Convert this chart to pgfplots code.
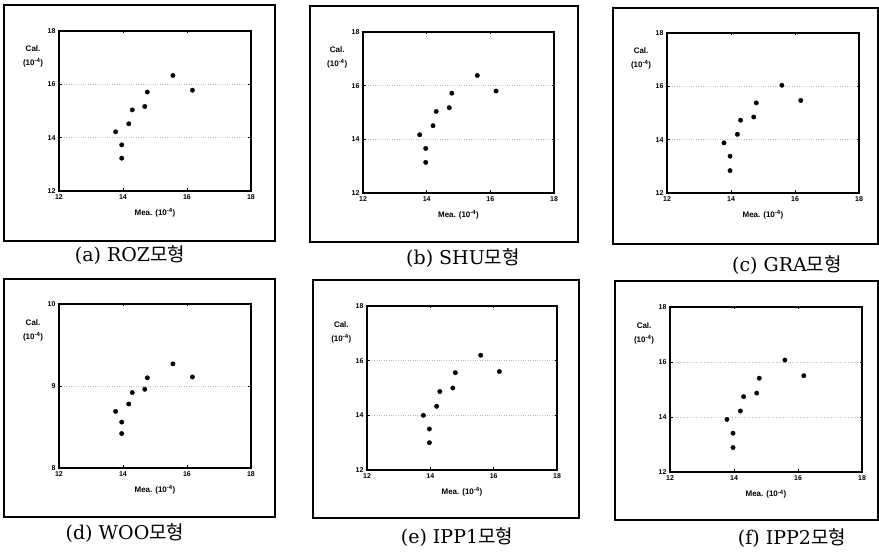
\documentclass[border=0pt]{standalone}
\usepackage{fontspec}
\setmainfont{Liberation Sans}
\newfontfamily\capserif{DejaVu Serif}
\newfontfamily\kr{Noto Sans CJK KR}
\usepackage{pgfplots}
\pgfplotsset{compat=1.18}
\usepackage{pgfplotstable}

% measured vs calculated, one table per model
\pgfplotstableread{
x y
13.77 14.22
13.96 13.73
13.96 13.23
14.18 14.52
14.29 15.04
14.68 15.17
14.76 15.71
15.56 16.33
16.17 15.78
}\roz
\pgfplotstableread{
x y
13.78 14.17
13.97 13.66
13.97 13.14
14.20 14.51
14.30 15.04
14.71 15.18
14.79 15.72
15.59 16.38
16.18 15.80
}\shu
\pgfplotstableread{
x y
13.78 13.88
13.97 13.38
13.97 12.84
14.20 14.20
14.30 14.73
14.71 14.85
14.79 15.38
15.59 16.04
16.18 15.47
}\gra
\pgfplotstableread{
x y
13.77 8.69
13.96 8.56
13.96 8.42
14.18 8.78
14.29 8.92
14.68 8.96
14.76 9.10
15.56 9.27
16.17 9.11
}\woo
\pgfplotstableread{
x y
13.78 14.00
13.97 13.50
13.97 13.00
14.20 14.33
14.30 14.87
14.71 15.00
14.79 15.56
15.59 16.20
16.18 15.60
}\ippa
\pgfplotstableread{
x y
13.78 13.91
13.97 13.41
13.97 12.89
14.20 14.22
14.30 14.74
14.71 14.87
14.79 15.41
15.59 16.07
16.18 15.50
}\ippb

\pgfplotsset{panel/.style={
  scale only axis, anchor=south west, axis on top,
  xmin=12, xmax=18, xtick={12,14,16,18},
  ymin=12, ymax=18, ytick={12,14,16,18},
  ymajorgrids, grid style={dotted, gray!50, line width=0.8pt},
  axis line style={line width=1.1pt, black},
  tick align=inside, major tick length=2.5pt,
  tick style={line width=0.8pt, black},
  /pgf/number format/assume math mode=true,
  tick label style={font=\bfseries\fontsize{7}{7}\selectfont},
  xlabel={Mea. (10\textsuperscript{-4})},
  xlabel style={font=\bfseries\fontsize{8}{8}\selectfont, at={(rel axis cs:0.5,-0.135)}, anchor=center},
  ylabel={Cal.\\(10\textsuperscript{-4})},
  ylabel style={font=\bfseries\fontsize{8}{14}\selectfont, align=center, rotate=-90, at={(rel axis cs:-0.135,0.84)}, anchor=center},
  after end axis/.code={\draw[line width=1.1pt] (rel axis cs:0,0) rectangle (rel axis cs:1,1);},
}}
\pgfplotsset{dots/.style={only marks, mark=*, mark size=2.2pt, black}}

\begin{document}
\begin{tikzpicture}[x=1pt, y=1pt]
\useasboundingbox (0,0) rectangle (879,553);
% outer frames
\begin{scope}[line width=1.6pt]
\draw (4,312) rectangle (275,548);
\draw (310,311) rectangle (578,547);
\draw (613,309) rectangle (878,545);
\draw (4,36) rectangle (275,274);
\draw (313,35) rectangle (579,273);
\draw (615,33) rectangle (878,272);
\end{scope}

\begin{axis}[panel, at={(59pt,362pt)}, width=192pt, height=160pt]
\addplot[dots] table {\roz};
\end{axis}
\begin{axis}[panel, at={(363pt,360pt)}, width=191pt, height=161pt]
\addplot[dots] table {\shu};
\end{axis}
\begin{axis}[panel, at={(667pt,360pt)}, width=192pt, height=160pt]
\addplot[dots] table {\gra};
\end{axis}
\begin{axis}[panel, at={(59pt,85pt)}, width=192pt, height=164pt,
  ymin=8, ymax=10, ytick={8,9,10}]
\addplot[dots] table {\woo};
\end{axis}
\begin{axis}[panel, at={(367pt,83pt)}, width=190pt, height=164pt]
\addplot[dots] table {\ippa};
\end{axis}
\begin{axis}[panel, at={(670pt,81pt)}, width=192pt, height=165pt]
\addplot[dots] table {\ippb};
\end{axis}

% captions
\begin{scope}[every node/.style={font=\capserif\fontsize{19}{19}\selectfont, inner sep=0pt}]
\node at (130,298) {(a) ROZ{\kr 모형}};
\node at (463,295) {(b) SHU{\kr 모형}};
\node at (787,288) {(c) GRA{\kr 모형}};
\node at (125,20) {(d) WOO{\kr 모형}};
\node at (457,16) {(e) IPP1{\kr 모형}};
\node at (792,15) {(f) IPP2{\kr 모형}};
\end{scope}
\end{tikzpicture}
\end{document}
